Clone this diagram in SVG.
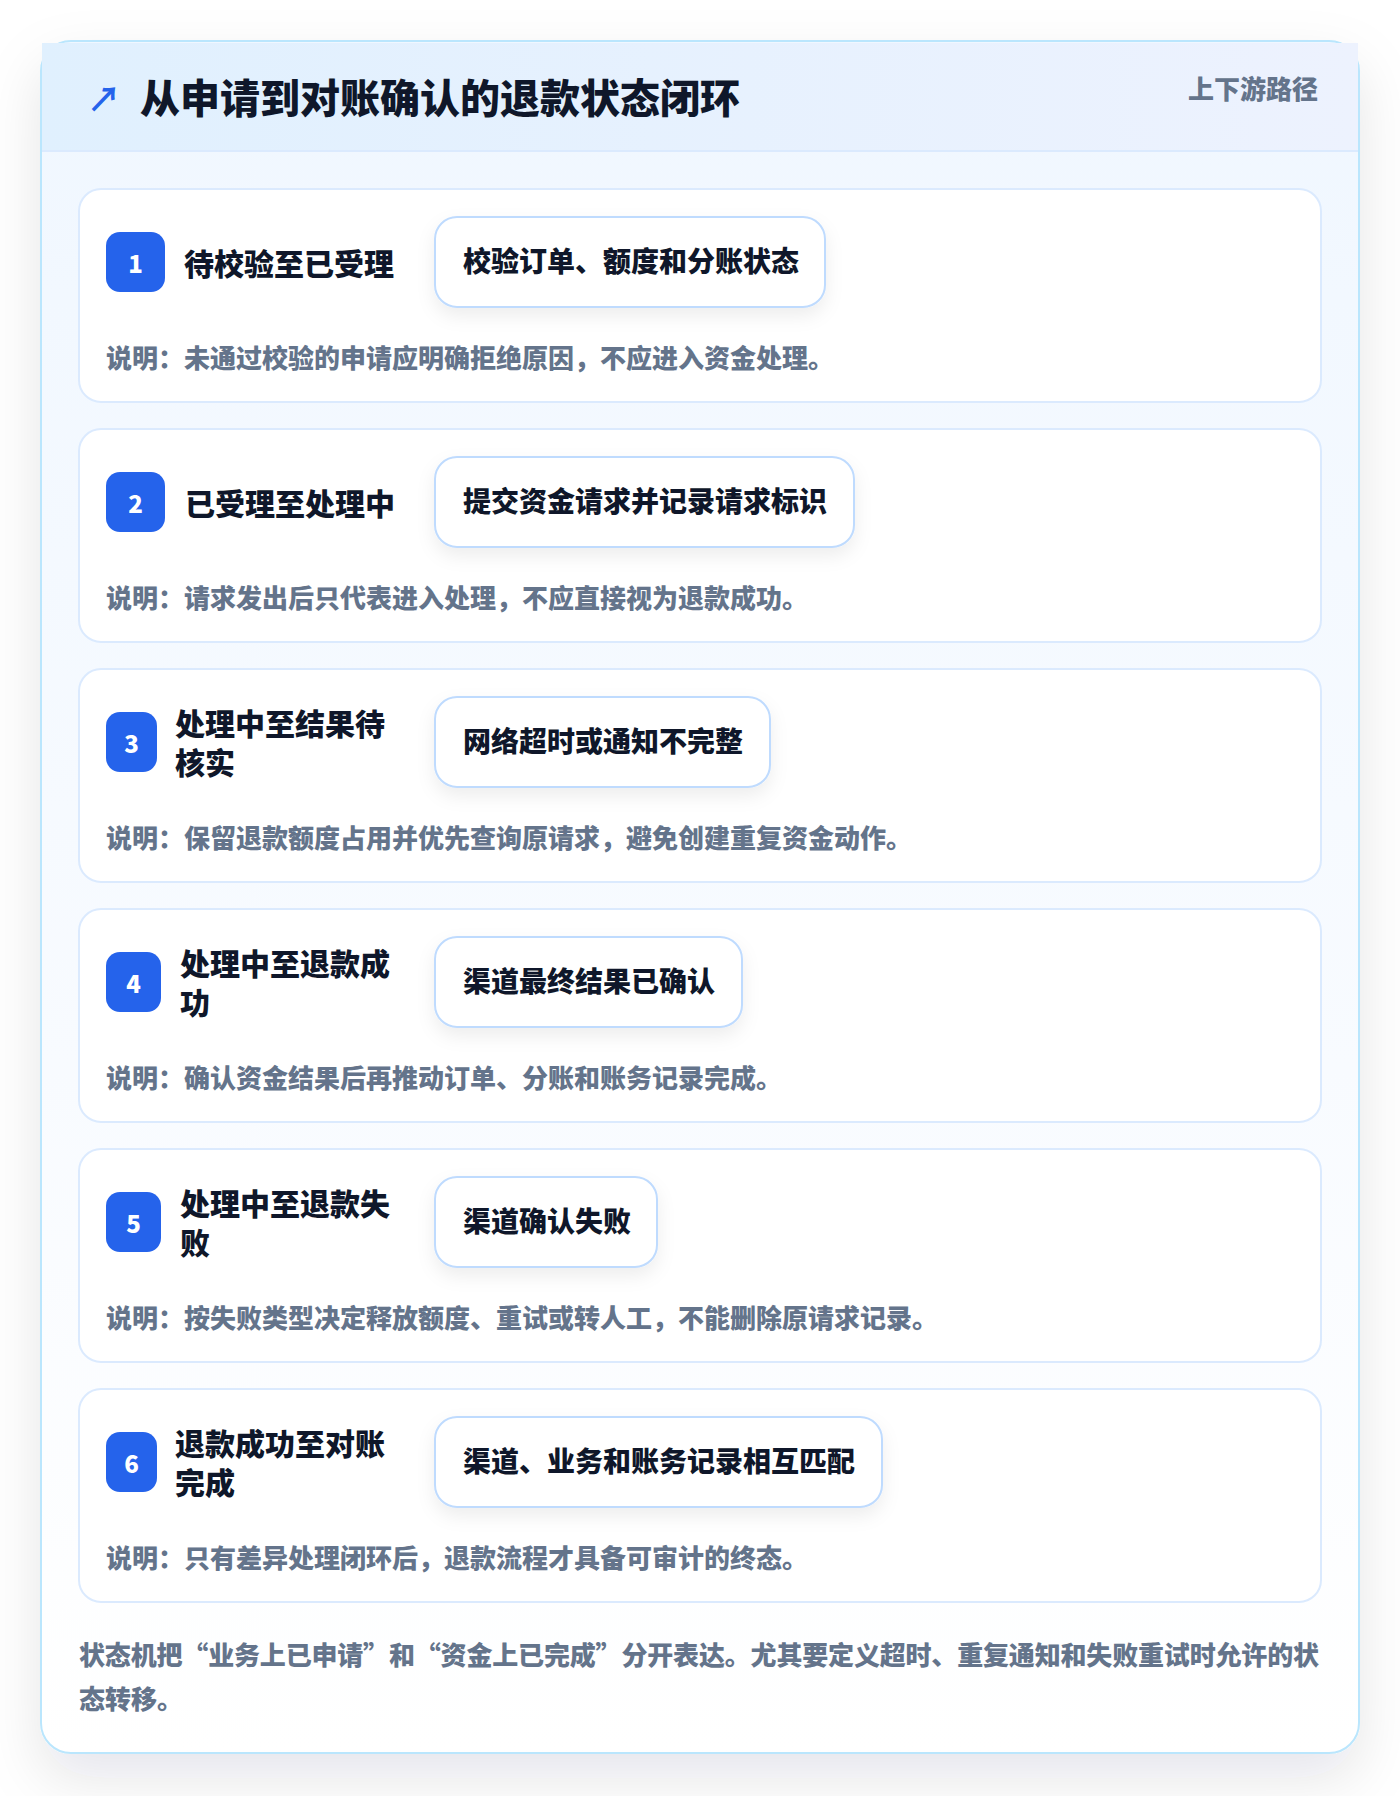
<svg xmlns="http://www.w3.org/2000/svg" width="1400" height="1796" viewBox="0 0 1400 1796">
<defs>
<linearGradient id="hdr" x1="0" y1="0" x2="1" y2="0">
<stop offset="0" stop-color="#e0f0fe"/>
<stop offset="1" stop-color="#edf2fe"/>
</linearGradient>
<linearGradient id="body" x1="0" y1="0" x2="0" y2="1">
<stop offset="0" stop-color="#f0f7ff"/>
<stop offset="0.6" stop-color="#f8fbff"/>
<stop offset="1" stop-color="#ffffff"/>
</linearGradient>
<filter id="outerShadow" x="-10%" y="-10%" width="120%" height="125%">
<feDropShadow dx="0" dy="24" stdDeviation="28" flood-color="#0f172a" flood-opacity="0.10"/>
</filter>
<filter id="pillShadow" x="-20%" y="-30%" width="140%" height="180%">
<feDropShadow dx="0" dy="8" stdDeviation="9" flood-color="#0f172a" flood-opacity="0.07"/>
</filter>
<style>
text{font-family:"Noto Sans CJK SC","Noto Sans",sans-serif;font-weight:800;dominant-baseline:central}
.step{fill:#ffffff;stroke:#dbeafe;stroke-width:2}
.pill{fill:#ffffff;stroke:#bfdbfe;stroke-width:2}
.badge{fill:#2563eb}
.num{fill:#ffffff;font-size:24px;text-anchor:middle}
.ttl{fill:#0f172a;font-size:30px}
.ptxt{fill:#0f172a;font-size:28px}
.desc{fill:#64748b;font-size:26px}
</style>
</defs>
<rect x="0" y="0" width="1400" height="1796" fill="#ffffff"/>
<g id="frame">
<rect x="41" y="41" width="1318" height="1712" rx="30" fill="url(#body)" stroke="#bae6fd" stroke-width="2" filter="url(#outerShadow)"/>
<rect x="42" y="43" width="1316" height="108" fill="url(#hdr)"/>
<line x1="42" y1="151" x2="1358" y2="151" stroke="#dbeafe" stroke-width="2"/>
</g>
<g id="header">
<text x="87" y="97" font-size="34" fill="#2563eb" style="font-weight:700">↗</text>
<text x="140" y="96" font-size="40" fill="#0f172a">从申请到对账确认的退款状态闭环</text>
<text x="1318" y="87" font-size="26" fill="#64748b" text-anchor="end">上下游路径</text>
</g>
<g id="step1">
<rect class="step" x="79" y="189" width="1242" height="213" rx="22"/>
<rect class="badge" x="106" y="232" width="59" height="60" rx="14"/>
<text class="num" x="135.5" y="262">1</text>
<text class="ttl" x="184" y="262">待校验至已受理</text>
<rect class="pill" x="435" y="217" width="390" height="90" rx="22" filter="url(#pillShadow)"/>
<text class="ptxt" x="463" y="260">校验订单、额度和分账状态</text>
<text class="desc" x="106" y="356">说明：未通过校验的申请应明确拒绝原因，不应进入资金处理。</text>
</g>
<g id="step2">
<rect class="step" x="79" y="429" width="1242" height="213" rx="22"/>
<rect class="badge" x="106" y="472" width="59" height="60" rx="14"/>
<text class="num" x="135.5" y="502">2</text>
<text class="ttl" x="185" y="502">已受理至处理中</text>
<rect class="pill" x="435" y="457" width="419" height="90" rx="22" filter="url(#pillShadow)"/>
<text class="ptxt" x="463" y="500">提交资金请求并记录请求标识</text>
<text class="desc" x="106" y="596">说明：请求发出后只代表进入处理，不应直接视为退款成功。</text>
</g>
<g id="step3">
<rect class="step" x="79" y="669" width="1242" height="213" rx="22"/>
<rect class="badge" x="106" y="712" width="51" height="60" rx="14"/>
<text class="num" x="131.5" y="742">3</text>
<text class="ttl" x="175" y="722">处理中至结果待<tspan x="175" dy="39">核实</tspan></text>
<rect class="pill" x="435" y="697" width="335" height="90" rx="22" filter="url(#pillShadow)"/>
<text class="ptxt" x="463" y="740">网络超时或通知不完整</text>
<text class="desc" x="106" y="836">说明：保留退款额度占用并优先查询原请求，避免创建重复资金动作。</text>
</g>
<g id="step4">
<rect class="step" x="79" y="909" width="1242" height="213" rx="22"/>
<rect class="badge" x="106" y="952" width="55" height="60" rx="14"/>
<text class="num" x="133.5" y="982">4</text>
<text class="ttl" x="180" y="962">处理中至退款成<tspan x="180" dy="39">功</tspan></text>
<rect class="pill" x="435" y="937" width="307" height="90" rx="22" filter="url(#pillShadow)"/>
<text class="ptxt" x="463" y="980">渠道最终结果已确认</text>
<text class="desc" x="106" y="1076">说明：确认资金结果后再推动订单、分账和账务记录完成。</text>
</g>
<g id="step5">
<rect class="step" x="79" y="1149" width="1242" height="213" rx="22"/>
<rect class="badge" x="106" y="1192" width="55" height="60" rx="14"/>
<text class="num" x="133.5" y="1222">5</text>
<text class="ttl" x="180" y="1202">处理中至退款失<tspan x="180" dy="39">败</tspan></text>
<rect class="pill" x="435" y="1177" width="222" height="90" rx="22" filter="url(#pillShadow)"/>
<text class="ptxt" x="463" y="1220">渠道确认失败</text>
<text class="desc" x="106" y="1316">说明：按失败类型决定释放额度、重试或转人工，不能删除原请求记录。</text>
</g>
<g id="step6">
<rect class="step" x="79" y="1389" width="1242" height="213" rx="22"/>
<rect class="badge" x="106" y="1432" width="51" height="60" rx="14"/>
<text class="num" x="131.5" y="1462">6</text>
<text class="ttl" x="175" y="1442">退款成功至对账<tspan x="175" dy="39">完成</tspan></text>
<rect class="pill" x="435" y="1417" width="447" height="90" rx="22" filter="url(#pillShadow)"/>
<text class="ptxt" x="463" y="1460">渠道、业务和账务记录相互匹配</text>
<text class="desc" x="106" y="1556">说明：只有差异处理闭环后，退款流程才具备可审计的终态。</text>
</g>
<g id="footer">
<text class="desc" x="79" y="1653" textLength="1240" lengthAdjust="spacing">状态机把“业务上已申请”和“资金上已完成”分开表达。尤其要定义超时、重复通知和失败重试时允许的状</text>
<text class="desc" x="79" y="1697">态转移。</text>
</g>
<g id="connectors"></g>
</svg>
